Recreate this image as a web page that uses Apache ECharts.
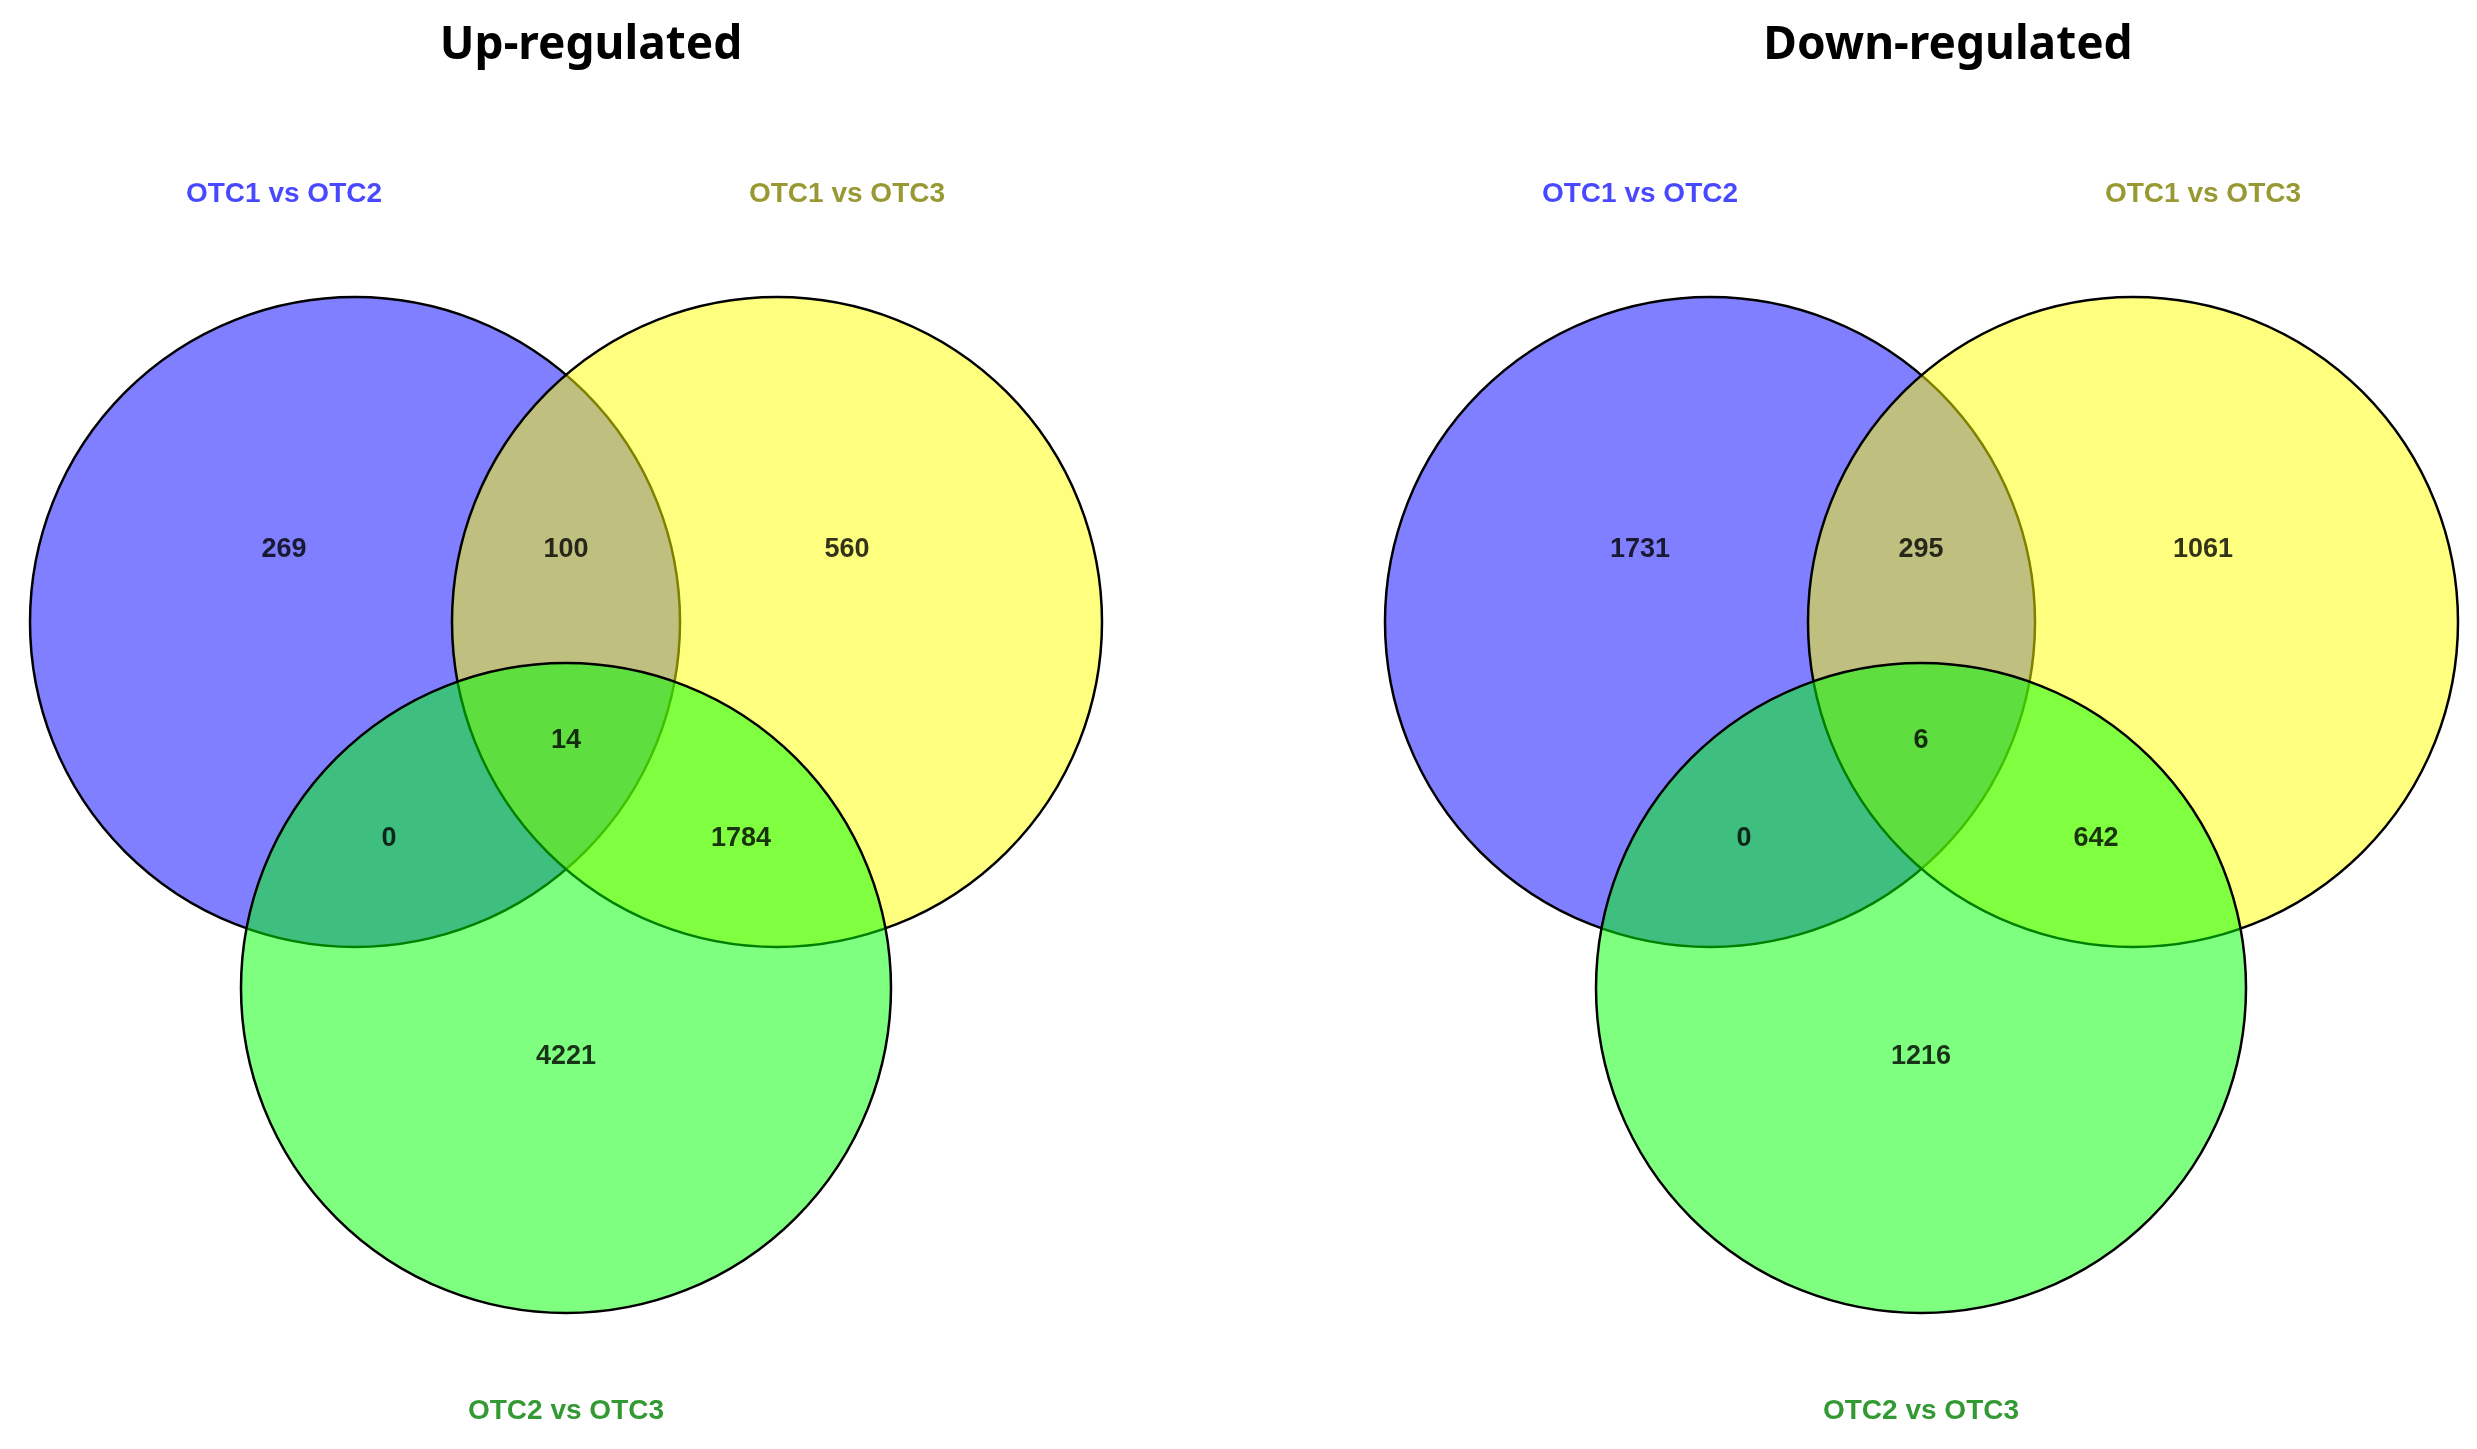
<!DOCTYPE html>
<html>
<head>
<meta charset="UTF-8">
<script src="https://cdn.jsdelivr.net/npm/echarts@6/dist/echarts.min.js"></script>
<style>
  body { margin: 0; background: #fff }
  #chart { width: 2477px; height: 1449px }
</style>
</head>
<body>
<div id="chart"></div>
<script>
// circles: [x, y, radius, fill] in page-sized data units
const circlesUp = [[355, 622, 325, 'rgba(0,0,255,0.5)'], [777, 622, 325, 'rgba(255,255,0,0.5)'], [566, 988, 325, 'rgba(0,255,0,0.5)']]
const circlesDown = [[1710, 622, 325, 'rgba(0,0,255,0.5)'], [2133, 622, 325, 'rgba(255,255,0,0.5)'], [1921, 988, 325, 'rgba(0,255,0,0.5)']]

// region counts: [x, y, value]
const countsUp = [[284, 550, '269'], [566, 550, '100'], [847, 550, '560'], [566, 741, '14'], [389, 839, '0'], [741, 839, '1784'], [566, 1057, '4221']]
const countsDown = [[1640, 550, '1731'], [1921, 550, '295'], [2203, 550, '1061'], [1921, 741, '6'], [1744, 839, '0'], [2096, 839, '642'], [1921, 1057, '1216']]

// set labels: [x, y, text, color]
const setLabels = [
  [284, 194, 'OTC1 vs OTC2', '#1a1aff'], [847, 194, 'OTC1 vs OTC3', '#808000'], [566, 1411, 'OTC2 vs OTC3', '#008000'],
  [1640, 194, 'OTC1 vs OTC2', '#1a1aff'], [2203, 194, 'OTC1 vs OTC3', '#808000'], [1921, 1411, 'OTC2 vs OTC3', '#008000']
]

const chart = echarts.init(document.getElementById('chart'))

function circleSeries(data) {
  return {
    type: 'custom',
    data: data.map(c => [c[0], c[1], c[2]]),
    renderItem: (params, api) => {
      const p = api.coord([api.value(0), api.value(1)])
      const r = api.size([api.value(2), 0])[0]
      return {
        type: 'circle',
        shape: { cx: p[0], cy: p[1], r: r },
        style: { fill: data[params.dataIndex][3], stroke: '#000', lineWidth: 2.5 }
      }
    },
    silent: true
  }
}

function textSeries(data, size, colorFn) {
  return {
    type: 'scatter',
    symbolSize: 0,
    data: data.map(d => ({ value: [d[0], d[1]], name: d[2], label: { color: colorFn(d) } })),
    label: {
      show: true, position: 'inside', formatter: p => p.name,
      fontFamily: 'Arial', fontWeight: 'bold', fontSize: size
    },
    z: 10,
    silent: true
  }
}

chart.setOption({
  backgroundColor: '#fff',
  animation: false,
  title: [
    { text: 'Up-regulated', left: 586, top: 18, textAlign: 'center',
      textStyle: { fontSize: 46, fontWeight: 'bold', fontFamily: 'Noto Sans', color: '#000' } },
    { text: 'Down-regulated', left: 1943, top: 18, textAlign: 'center',
      textStyle: { fontSize: 46, fontWeight: 'bold', fontFamily: 'Noto Sans', color: '#000' } }
  ],
  grid: { left: 0, right: 0, top: 0, bottom: 0 },
  xAxis: { type: 'value', min: 0, max: 2477, show: false },
  yAxis: { type: 'value', min: 0, max: 1449, inverse: true, show: false },
  series: [
    circleSeries(circlesUp),
    circleSeries(circlesDown),
    textSeries(countsUp, 27, () => '#000'),
    textSeries(countsDown, 27, () => '#000'),
    textSeries(setLabels, 28, d => d[3])
  ]
})
</script>
</body>
</html>
